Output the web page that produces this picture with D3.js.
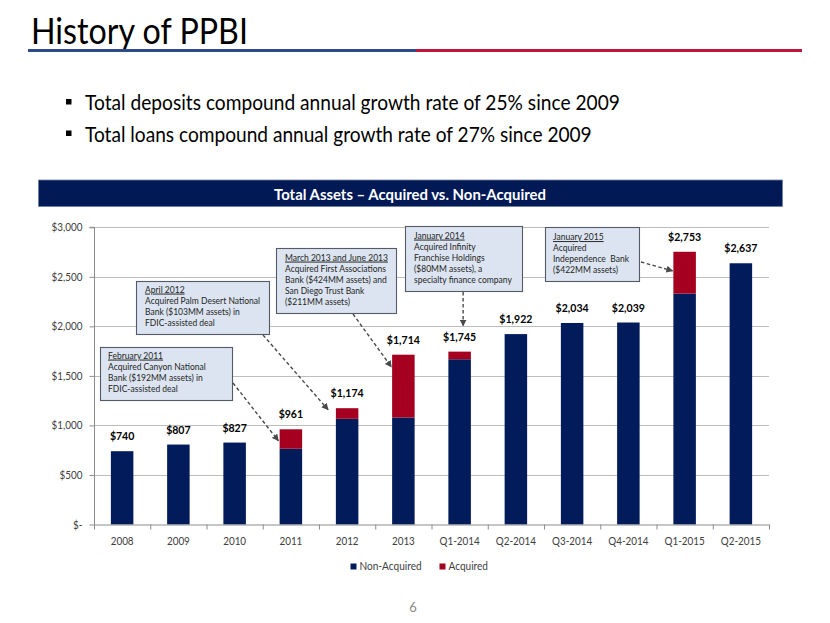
<!DOCTYPE html>
<html>
<head>
<meta charset="utf-8">
<script src="https://cdn.jsdelivr.net/npm/d3@7"></script>
<style>
  html, body { margin: 0; padding: 0; background: #fff; }
  svg { display: block; font-family: Lato, "Open Sans", sans-serif; }
</style>
</head>
<body>
<svg id="chart" width="830" height="623"></svg>
<script>
// ---------------- DATA ----------------
const categories = ["2008","2009","2010","2011","2012","2013","Q1-2014","Q2-2014","Q3-2014","Q4-2014","Q1-2015","Q2-2015"];
const nonAcquired = [740, 807, 827, 765, 1067, 1080, 1668, 1922, 2034, 2039, 2331, 2637];
const acquired    = [0,   0,   0,   196, 107,  634,  77,   0,    0,    0,    422,  0];
const yTicks = [0, 500, 1000, 1500, 2000, 2500, 3000];
const seriesNames = ["Non-Acquired", "Acquired"];
const bullets = [
  "Total deposits compound annual growth rate of 25% since 2009",
  "Total loans compound annual growth rate of 27% since 2009"
];
const annotations = [
  { cat: "2011", value: 845,  lines: ["February 2011", "Acquired Canyon National", "Bank ($192MM assets) in", "FDIC-assisted deal"] },
  { cat: "2012", value: 1158, lines: ["April 2012", "Acquired Palm Desert National", "Bank ($103MM assets) in", "FDIC-assisted deal"] },
  { cat: "2013", value: 1590, lines: ["March 2013 and June 2013", "Acquired First Associations", "Bank ($424MM assets) and", "San Diego Trust Bank", "($211MM assets)"] },
  { cat: "Q1-2014", value: 2005, lines: ["January 2014", "Acquired Infinity", "Franchise Holdings", "($80MM assets), a", "specialty finance company"] },
  { cat: "Q1-2015", value: 2560, lines: ["January 2015", "Acquired", "Independence  Bank", "($422MM assets)"] }
];

// ---------------- STYLE / LAYOUT ----------------
const NAVY = "#021c5b", RED = "#a5001f";
const SQ = 0.9; // horizontal squeeze to emulate a narrower face
const svg = d3.select("#chart");

// move x/y into a transform and squeeze horizontally
function squeeze(sel, sx) {
  sel.each(function () {
    const t = d3.select(this);
    const x = +t.attr("x") || 0, y = +t.attr("y") || 0;
    t.attr("x", 0).attr("y", 0).attr("transform", `translate(${x},${y}) scale(${sx},1)`);
  });
  return sel;
}
// squeeze so that the text is exactly w wide
function fitSq(sel, w) {
  const cur = sel.node().getComputedTextLength();
  return squeeze(sel, w / cur);
}

// Title
fitSq(svg.append("text").attr("x", 31).attr("y", 44).attr("font-size", 37)
  .attr("fill", "#000").text("History of PPBI"), 217);
svg.append("rect").attr("x", 28).attr("y", 49).attr("width", 388).attr("height", 3).attr("fill", "#2c4a8c");
svg.append("rect").attr("x", 416).attr("y", 49).attr("width", 386).attr("height", 3).attr("fill", "#c0153b");

// Bullets
const bulletW = [535, 507];
bullets.forEach((b, i) => {
  const by = 110 + i * 31.5;
  svg.append("rect").attr("x", 66).attr("y", by - 11).attr("width", 5.5).attr("height", 5.5).attr("fill", "#000");
  fitSq(svg.append("text").attr("x", 85).attr("y", by).attr("font-size", 22).attr("fill", "#000").text(b), bulletW[i]);
});

// Banner
svg.append("rect").attr("x", 38.5).attr("y", 180).attr("width", 744).attr("height", 26.5)
  .attr("fill", "#011955").attr("stroke", "#6d7fa6").attr("stroke-width", 0.8);
fitSq(svg.append("text").attr("x", 410).attr("y", 199.5).attr("text-anchor", "middle").attr("font-size", 16)
  .attr("font-weight", "bold").attr("fill", "#fff").text("Total Assets \u2013 Acquired vs. Non-Acquired"), 272);

// Scales
const x = d3.scaleBand().domain(categories).range([94, 769]).paddingInner(0.6).paddingOuter(0.3);
const y = d3.scaleLinear().domain([0, 3000]).range([524.5, 227.3]);
const step = x.step();
const xStart = 94, xEnd = 769;

// Gridlines
svg.append("g").selectAll("line").data(yTicks.filter(d => d > 0)).join("line")
  .attr("x1", xStart).attr("x2", xEnd)
  .attr("y1", d => Math.round(y(d)) + 0.5).attr("y2", d => Math.round(y(d)) + 0.5)
  .attr("stroke", "#bdbdbd").attr("stroke-width", 1);

// Y axis
const yAxis = d3.axisLeft(y).tickValues(yTicks).tickSize(5).tickPadding(7)
  .tickFormat(d => d === 0 ? "$-" : d3.format("$,")(d));
const yg = svg.append("g").attr("transform", `translate(${xStart + 0.5},0)`).call(yAxis);
yg.select(".domain").attr("stroke", "#8c8c8c").attr("d", `M-5,${y(3000)}H0V${y(0)}`);
yg.selectAll(".tick line").attr("stroke", "#8c8c8c");
yg.selectAll(".tick text").attr("font-size", 11).attr("fill", "#404040").attr("font-family", "Lato")
  .attr("transform", `scale(${SQ},1)`).attr("x", -12 / SQ);

// Bars
const stackData = categories.map((c, i) => ({ cat: c, non: nonAcquired[i], acq: acquired[i] }));
const stack = d3.stack().keys(["non", "acq"])(stackData);
const colors = [NAVY, RED];
stack.forEach((layer, li) => {
  svg.append("g").selectAll("rect").data(layer).join("rect")
    .attr("x", d => x(d.data.cat))
    .attr("width", x.bandwidth())
    .attr("y", d => y(d[1]))
    .attr("height", d => Math.max(0, y(d[0]) - y(d[1])))
    .attr("fill", colors[li]);
});

// X axis
const xg = svg.append("g");
xg.append("line").attr("x1", xStart).attr("x2", xEnd).attr("y1", y(0) + 0.5).attr("y2", y(0) + 0.5)
  .attr("stroke", "#8c8c8c");
xg.selectAll("line.tk").data(d3.range(categories.length + 1)).join("line").attr("class", "tk")
  .attr("x1", i => xStart + i * step + 0.5).attr("x2", i => xStart + i * step + 0.5)
  .attr("y1", y(0)).attr("y2", y(0) + 5).attr("stroke", "#8c8c8c");
squeeze(xg.selectAll("text").data(categories).join("text")
  .attr("x", d => x(d) + x.bandwidth() / 2).attr("y", 544.5)
  .attr("text-anchor", "middle").attr("font-size", 11).attr("fill", "#404040").text(d => d), SQ);

// Value labels
squeeze(svg.append("g").selectAll("text").data(stackData).join("text")
  .attr("x", d => x(d.cat) + x.bandwidth() / 2)
  .attr("y", d => y(d.non + d.acq) - 11)
  .attr("text-anchor", "middle").attr("font-size", 12).attr("font-weight", "bold").attr("fill", "#000")
  .text(d => d3.format("$,")(d.non + d.acq)), 0.88);

// Legend
const lg = svg.append("g");
const legendX = [350.5, 439.5];
seriesNames.forEach((n, i) => {
  lg.append("rect").attr("x", legendX[i]).attr("y", 563.5).attr("width", 6).attr("height", 6).attr("fill", colors[i]);
  squeeze(lg.append("text").attr("x", legendX[i] + 9).attr("y", 569.5).attr("font-size", 11.2)
    .attr("fill", "#404040").text(n), SQ);
});

// Annotations
svg.append("defs").append("marker").attr("id", "ah").attr("viewBox", "0 0 10 10")
  .attr("refX", 9).attr("refY", 5).attr("markerWidth", 5).attr("markerHeight", 5)
  .attr("markerUnits", "strokeWidth").attr("orient", "auto")
  .append("path").attr("d", "M0,0L10,5L0,10Z").attr("fill", "#4a4a4a");

const boxes = [
  { x: 100, y: 347, w: 132, h: 53, tx: 108, ty: 358.5, from: [233, 383], dx: -12.5 },
  { x: 136, y: 281, w: 133, h: 53, tx: 145, ty: 292.5, from: [263, 335], dx: -19 },
  { x: 276, y: 248, w: 120, h: 65, tx: 285, ty: 260.5, from: [353, 314], dx: -12 },
  { x: 405, y: 226, w: 117, h: 65, tx: 414, ty: 238.5, from: [463, 292], dx: 3.5, vertical: true },
  { x: 545, y: 227, w: 94,  h: 54, tx: 553, ty: 240,   from: [641, 262], dx: -12 }
];
const boxFont = 9.8;
annotations.forEach((a, i) => {
  const b = boxes[i];
  const g = svg.append("g");
  g.append("rect").attr("x", b.x + 0.5).attr("y", b.y + 0.5).attr("width", b.w).attr("height", b.h)
    .attr("fill", "#dbe4f0").attr("stroke", "#555b66").attr("stroke-width", 1.1);
  a.lines.forEach((l, j) => {
    g.append("text").attr("x", b.tx).attr("y", b.ty + j * 11.1).attr("font-size", boxFont)
      .attr("fill", "#262626").attr("class", "boxtxt")
      .attr("text-decoration", j === 0 ? "underline" : null).attr("xml:space", "preserve").text(l);
  });
  const tx = x(a.cat) + x.bandwidth() / 2 + b.dx;
  const ty = y(a.value);
  g.append("line").attr("x1", b.vertical ? tx : b.from[0]).attr("y1", b.from[1])
    .attr("x2", tx).attr("y2", ty)
    .attr("stroke", "#4a4a4a").attr("stroke-width", 1.4).attr("stroke-dasharray", "3.5,2.5")
    .attr("marker-end", "url(#ah)");
});
// squeeze box text so the longest line of box 4 matches the reference width
(function () {
  const t = svg.selectAll(".boxtxt").filter(function () { return this.textContent === "specialty finance company"; });
  const w = t.node().getComputedTextLength();
  squeeze(svg.selectAll(".boxtxt"), 98 / w);
})();

// Page number
svg.append("text").attr("x", 413).attr("y", 612).attr("text-anchor", "middle").attr("font-size", 13)
  .attr("fill", "#8a8a8a").text("6");
</script>
</body>
</html>
